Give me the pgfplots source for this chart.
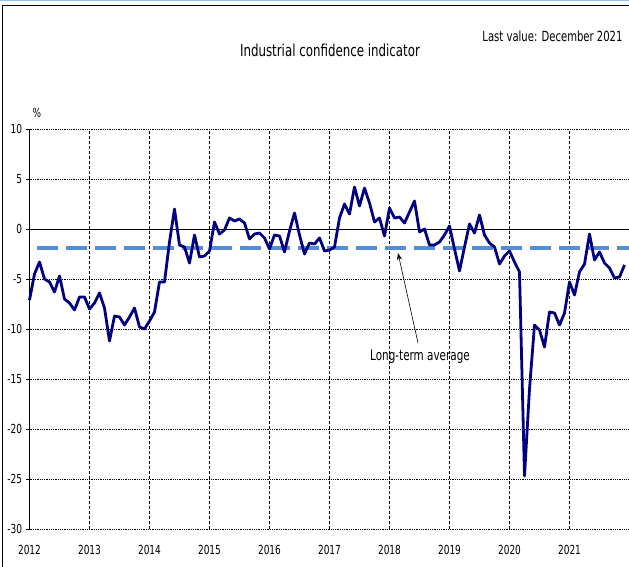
\documentclass[border=0pt]{standalone}
\usepackage{fontspec}
\setmainfont{DejaVu Sans}[FakeStretch=0.72]
\usepackage{pgfplots}
\usepackage{pgfplotstable}
\pgfplotsset{compat=1.18}
\usetikzlibrary{arrows.meta}

\definecolor{navyline}{RGB}{0,0,128}
\definecolor{avgblue}{RGB}{85,142,213}
\definecolor{framebl}{RGB}{150,190,230}

% monthly values, m = 0 is January 2012
\pgfplotstableread{
m v
0 -7.1
1 -4.5
2 -3.3
3 -5.0
4 -5.3
5 -6.3
6 -4.7
7 -7.0
8 -7.4
9 -8.1
10 -6.8
11 -6.8
12 -8.0
13 -7.4
14 -6.4
15 -7.9
16 -11.2
17 -8.7
18 -8.8
19 -9.6
20 -8.8
21 -7.9
22 -9.8
23 -10.0
24 -9.2
25 -8.3
26 -5.3
27 -5.3
28 -1.3
29 2.0
30 -1.6
31 -1.8
32 -3.4
33 -0.6
34 -2.8
35 -2.7
36 -2.2
37 0.7
38 -0.5
39 -0.1
40 1.1
41 0.8
42 1.0
43 0.6
44 -1.0
45 -0.5
46 -0.4
47 -0.9
48 -2.0
49 -0.6
50 -0.7
51 -2.3
52 -0.2
53 1.6
54 -0.6
55 -2.5
56 -1.4
57 -1.5
58 -0.9
59 -2.2
60 -2.1
61 -1.8
62 1.1
63 2.5
64 1.5
65 4.2
66 2.3
67 4.1
68 2.6
69 0.7
70 1.1
71 -0.7
72 2.1
73 1.1
74 1.2
75 0.6
76 1.7
77 2.8
78 -0.3
79 0.0
80 -1.6
81 -1.6
82 -1.3
83 -0.6
84 0.3
85 -2.0
86 -4.2
87 -1.8
88 0.5
89 -0.4
90 1.4
91 -0.6
92 -1.4
93 -1.8
94 -3.5
95 -2.7
96 -2.2
97 -3.3
98 -4.3
99 -24.7
100 -16.0
101 -9.6
102 -10.1
103 -11.8
104 -8.3
105 -8.4
106 -9.6
107 -8.4
108 -5.3
109 -6.6
110 -4.3
111 -3.5
112 -0.5
113 -3.1
114 -2.3
115 -3.4
116 -3.9
117 -4.9
118 -4.8
119 -3.6
}\ici

\begin{document}
\begin{tikzpicture}
\path[use as bounding box] (-29.5bp,-38bp) rectangle (599.5bp,529bp);

\begin{axis}[
    at={(0,0)}, anchor=south west,
    width=600bp, height=400bp, scale only axis,
    xmin=0, xmax=120, ymin=-30, ymax=10,
    axis y line*=left, axis x line*=bottom,
    x axis line style={draw=none},
    y axis line style={black, line width=0.8bp},
    xtick={0,12,24,36,48,60,72,84,96,108},
    xticklabels={2012,2013,2014,2015,2016,2017,2018,2019,2020,2021},
    ytick={-30,-25,-20,-15,-10,-5,0,5,10},
    yticklabels={-30,-25,-20,-15,-10,-5,0,5,10},
    xtick style={draw=none},
    ytick style={black, line width=0.8bp},
    ytick align=outside,
    major tick length=4bp,
    tick label style={font=\fontsize{12.5}{14}\selectfont},
    xticklabel style={yshift=-13bp},
    grid=major,
    x grid style={black, line width=0.6bp, dash pattern=on 3bp off 2bp},
    y grid style={black, line width=0.8bp, densely dotted},
    clip=false,
]
\addplot[black, line width=0.9bp] coordinates {(0,0) (120,0)};
\addplot[avgblue, line width=4bp, dash pattern=on 21bp off 8bp] coordinates {(1.5,-1.9) (120,-1.9)};
\addplot[navyline, line width=2.8bp, line join=round] table[x=m, y=v] {\ici};

\draw[black, line width=0.6bp, -{Stealth[length=7bp,width=5bp]}] (axis cs:77.7,-11.4) -- (axis cs:73.7,-2.4);
\node[font=\fontsize{14.5}{16}\selectfont] at (axis cs:78.1,-12.8) {Long-term average};
\end{axis}

% outer frame
\draw[framebl, line width=1.5bp] (-29.5bp,528.5bp) -- (599.5bp,528.5bp);
\draw[black, line width=0.8bp] (-27bp,-38bp) -- (-27bp,524bp) -- (599.5bp,524bp);

\node[font=\fontsize{16.5}{18}\selectfont] at (300.5bp,479bp) {Industrial confidence indicator};
\node[font=\fontsize{14}{16}\selectfont, anchor=east] at (596.5bp,493bp) {Last value: December 2021};
\node[font=\fontsize{12.5}{14}\selectfont] at (7.5bp,416bp) {\%};
\end{tikzpicture}
\end{document}
